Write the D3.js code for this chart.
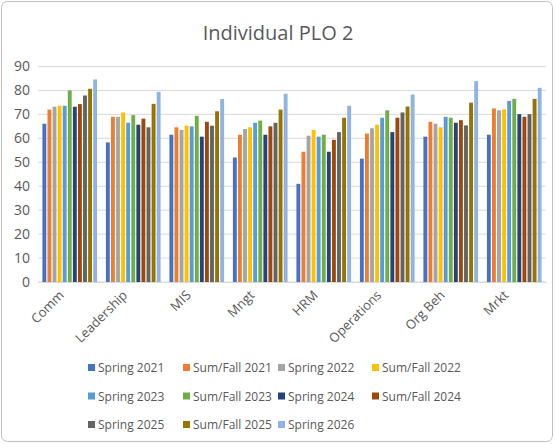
<!DOCTYPE html><html><head><script src="https://cdn.jsdelivr.net/npm/d3@7"></script>
<style>body{margin:0;background:#fff}svg{font-family:"Open Sans","Liberation Sans",sans-serif}</style></head><body>
<svg id="c" width="555" height="444"></svg>
<script>
const categories=["Comm","Leadership","MIS","Mngt","HRM","Operations","Org Beh","Mrkt"];
const seriesNames=["Spring 2021","Sum/Fall 2021","Spring 2022","Sum/Fall 2022","Spring 2023","Sum/Fall 2023","Spring 2024","Sum/Fall 2024","Spring 2025","Sum/Fall 2025","Spring 2026"];
const colors=["#4472C4","#ED7D31","#A5A5A5","#FFC000","#5B9BD5","#70AD47","#264478","#9E480E","#636363","#997300","#8FB4E3"];
const values=[
[66.1,72,73.2,73.6,73.6,80,73.2,74.3,77.9,80.7,84.6],
[58.3,69,69,70.8,66.5,69.7,65.7,68.2,64.6,74.4,79.4],
[61.5,64.6,63.5,65.3,65,69.4,60.7,66.9,65.3,71.3,76.4],
[52,61.5,63.9,64.6,66.5,67.4,61.5,65,66.5,72,78.6],
[41,54.4,61.1,63.5,60.7,61.5,54.4,59.4,62.6,68.6,73.6],
[51.5,62,64.2,65.7,68.6,71.7,62.6,68.6,70.8,73.3,78.3],
[60.7,66.9,66.1,64.6,69,68.6,66.5,67.6,65.4,74.9,83.9],
[61.5,72.5,71.7,72.1,75.6,76.5,70.1,69,70.1,76.5,81.1]];
const yTicks=[0,10,20,30,40,50,60,70,80,90];
const svg=d3.select("#c");
svg.append("rect").attr("x",1.5).attr("y",1.5).attr("width",551).attr("height",440).attr("rx",6).attr("fill","none").attr("stroke","#bfbfbf");
svg.append("text").attr("x",278).attr("y",40).attr("text-anchor","middle").attr("font-size",20).attr("fill","#595959").text("Individual PLO 2");
const x=d3.scaleBand().domain(categories).range([38,546]).paddingInner(0.12).paddingOuter(0.06);
const xs=d3.scaleBand().domain(seriesNames).range([0,x.bandwidth()]);
const y=d3.scaleLinear().domain([0,90]).range([282,66.5]);
svg.append("g").selectAll("line").data(yTicks).join("line").attr("x1",38).attr("x2",546).attr("y1",d=>y(d)).attr("y2",d=>y(d)).attr("stroke","#d9d9d9");
const ya=svg.append("g").attr("transform","translate(32,0)").call(d3.axisLeft(y).tickValues(yTicks).tickSize(0).tickPadding(2));
ya.select(".domain").remove();ya.selectAll("text").attr("font-size",14).attr("fill","#595959").attr("font-family","Open Sans, sans-serif");
svg.append("g").selectAll("g").data(values).join("g").attr("transform",(d,i)=>`translate(${x(categories[i])},0)`)
.selectAll("rect").data(d=>d).join("rect").attr("x",(d,j)=>xs(seriesNames[j])+0.6).attr("width",xs.bandwidth()-1.2)
.attr("y",d=>y(d)).attr("height",d=>y(0)-y(d)).attr("fill",(d,j)=>colors[j]);
const xa=svg.append("g").attr("transform","translate(0,282)").call(d3.axisBottom(x).tickSize(0).tickPadding(0));
xa.select(".domain").attr("stroke","#d9d9d9");
xa.selectAll("text").attr("font-size",13).attr("fill","#595959").attr("font-family","Open Sans, sans-serif").attr("text-anchor","end").attr("dy","0").attr("transform","translate(-5,14) rotate(-45)");
const cols=[92,187,282,376], rows=[368,396.5,425];
const lg=svg.append("g").selectAll("g").data(seriesNames).join("g").attr("transform",(d,i)=>`translate(${cols[i%4]-4},${rows[Math.floor(i/4)]})`);
lg.append("rect").attr("x",0).attr("y",-4).attr("width",7).attr("height",7).attr("fill",(d,i)=>colors[i]);
lg.append("text").attr("x",10).attr("y",4).attr("font-size",12).attr("fill","#595959").text(d=>d);
</script></body></html>
